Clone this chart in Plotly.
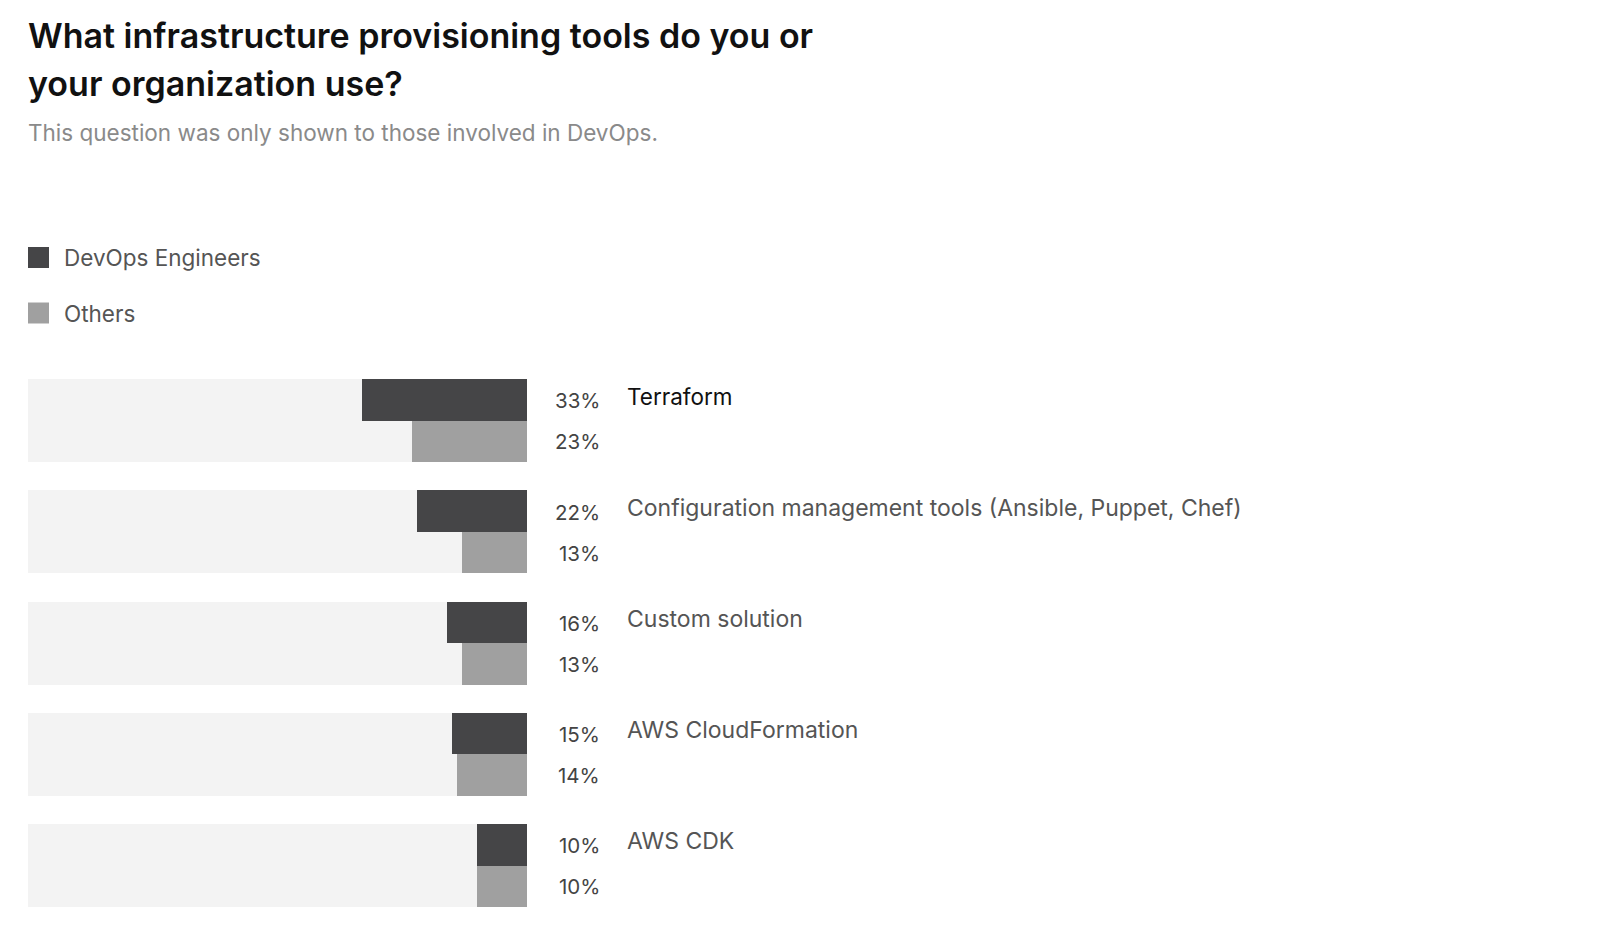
import plotly.graph_objects as go

categories = ["Terraform", "Configuration management tools (Ansible, Puppet, Chef)",
              "Custom solution", "AWS CloudFormation", "AWS CDK"]
devops = [33, 22, 16, 15, 10]
others = [23, 13, 13, 14, 10]
series_names = ["DevOps Engineers", "Others"]

W, H = 1600, 927
DARK = "#454547"
LIGHT = "#a0a0a0"
TRACK = "#f3f3f3"
FONT = "Inter"
OFF = 8  # default page body margin

def py(p):
    return 1 - (p - OFF) / H

def px(p):
    return (p - OFF) / W

PITCH = 111.25
BAR = 41.5
row_top = [i * PITCH for i in range(len(categories))]
dark_y = [t + BAR / 2 for t in row_top]
light_y = [t + BAR * 1.5 for t in row_top]
track_y = [t + BAR for t in row_top]
Y_TOP = 379
Y_BOT = Y_TOP + row_top[-1] + 2 * BAR

fig = go.Figure()
fig.add_trace(go.Bar(x=[100] * len(categories), y=track_y, orientation="h", width=2 * BAR,
                     marker=dict(color=TRACK, line=dict(width=0)), hoverinfo="skip", showlegend=False))
fig.add_trace(go.Bar(x=devops, y=dark_y, orientation="h", width=BAR, name=series_names[0],
                     marker=dict(color=DARK, line=dict(width=0)), showlegend=False))
fig.add_trace(go.Bar(x=others, y=light_y, orientation="h", width=BAR, name=series_names[1],
                     marker=dict(color=LIGHT, line=dict(width=0)), showlegend=False))

ann = []
# Title and subtitle
ann.append(dict(text="What infrastructure provisioning tools do you or", x=px(26), y=py(35.5),
                xref="paper", yref="paper", xanchor="left", yanchor="middle", showarrow=False,
                font=dict(family=FONT, size=34, color="#111111", weight=600)))
ann.append(dict(text="your organization use?", x=px(26), y=py(83.5),
                xref="paper", yref="paper", xanchor="left", yanchor="middle", showarrow=False,
                font=dict(family=FONT, size=34, color="#111111", weight=600)))
ann.append(dict(text="This question was only shown to those involved in DevOps.", x=px(26), y=py(132),
                xref="paper", yref="paper", xanchor="left", yanchor="middle", showarrow=False,
                font=dict(family=FONT, size=22.5, color="#8a8a8a")))

# Legend
shapes = []
for name, col, cy in zip(series_names, [DARK, LIGHT], [257.5, 313]):
    shapes.append(dict(type="rect", xref="paper", yref="paper", x0=px(28), x1=px(49),
                       y0=py(cy - 10.5), y1=py(cy + 10.5), fillcolor=col, line=dict(width=0)))
    ann.append(dict(text=name, x=px(62), y=py(cy), xref="paper", yref="paper",
                    xanchor="left", yanchor="middle", showarrow=False,
                    font=dict(family=FONT, size=22.5, color="#555555")))

# Value labels and category names
for i, cat in enumerate(categories):
    ann.append(dict(text=f"{devops[i]}%", x=px(601.5), y=dark_y[i] + 1, xref="paper", yref="y",
                    xanchor="right", yanchor="middle", showarrow=False,
                    font=dict(family=FONT, size=20.5, color="#444444")))
    ann.append(dict(text=f"{others[i]}%", x=px(601.5), y=light_y[i] + 0.5, xref="paper", yref="y",
                    xanchor="right", yanchor="middle", showarrow=False,
                    font=dict(family=FONT, size=20.5, color="#444444")))
    ann.append(dict(text=cat, x=px(625), y=dark_y[i] - 3.5, xref="paper", yref="y",
                    xanchor="left", yanchor="middle", showarrow=False,
                    font=dict(family=FONT, size=23 if i else 22.5,
                              color="#111111" if i == 0 else "#555555")))

fig.update_layout(
    width=W, height=H,
    margin=dict(l=0, r=0, t=0, b=0),
    paper_bgcolor="white", plot_bgcolor="white",
    barmode="overlay", bargap=0,
    showlegend=False,
    xaxis=dict(domain=[px(28), px(527)], range=[100, 0], visible=False, fixedrange=True),
    yaxis=dict(domain=[py(Y_BOT), py(Y_TOP)], range=[row_top[-1] + 2 * BAR, 0],
               visible=False, fixedrange=True),
    annotations=ann, shapes=shapes,
    font=dict(family=FONT),
)

fig.write_html("out.html")
